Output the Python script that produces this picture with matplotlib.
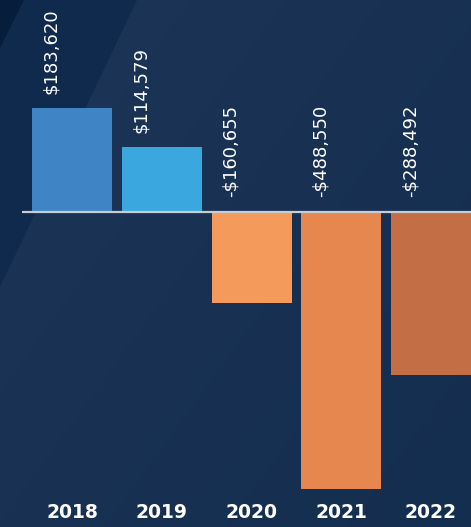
import numpy as np
import matplotlib
matplotlib.use("Agg")
import matplotlib.pyplot as plt
import matplotlib.transforms as mtransforms
from matplotlib.patches import Polygon

# ---------------- data ----------------
years = ["2018", "2019", "2020", "2021", "2022"]
values = [183620, 114579, -160655, -488550, -288492]
labels = ["$183,620", "$114,579", "-$160,655", "-$488,550", "-$288,492"]
bar_colors = ["#3f85c5", "#3aa8df", "#f49a5b", "#e5874f", "#c46e45"]

W, H = 471, 527
fig = plt.figure(figsize=(W / 100, H / 100), dpi=100)

# ---------------- background ----------------
bg = fig.add_axes([0, 0, 1, 1])
bg.set_xlim(0, 1)
bg.set_ylim(0, 1)
bg.axis("off")
gx, gy = np.meshgrid(np.linspace(0, 1, 200), np.linspace(1, 0, 200))
t = np.clip(0.55 * gx + 0.45 * (1 - gy), 0, 1)
c0 = np.array([0x1d, 0x35, 0x56]) / 255
c1 = np.array([0x14, 0x2e, 0x50]) / 255
img = c0[None, None, :] * (1 - t[..., None]) + c1[None, None, :] * t[..., None]
bg.imshow(img, extent=[0, 1, 0, 1], aspect="auto", zorder=0)
# diagonal bands, top-left corner
band = Polygon([(0, 1), (137 / W, 1), (0, 1 - 287 / H)], closed=True,
               facecolor="#0f2a4d", edgecolor="none", zorder=1)
corner = Polygon([(0, 1), (24 / W, 1), (0, 1 - 48 / H)], closed=True,
                 facecolor="#071d3c", edgecolor="none", zorder=2)
bg.add_patch(band)
bg.add_patch(corner)

# ---------------- bars ----------------
ax = fig.add_axes([0, 0, 1, 1])
ax.patch.set_alpha(0)
step = 89.75          # pixels between bar centres
first = 72            # pixel x of the first bar centre
px_per_unit = 1 / 1765.0
zero_px = 212
ax.set_xlim(-first / step, (W - first) / step)
ax.set_ylim(-(H - zero_px) / px_per_unit, zero_px / px_per_unit)
ax.axis("off")

x = np.arange(len(years))
ax.bar(x, values, width=80 / step, color=bar_colors, zorder=2)
ax.hlines(0, (22 - first) / step, (W - first) / step, colors="#c9ccd1",
          linewidth=1.6, zorder=3)

for xi, v, lab in zip(x, values, labels):
    ax.annotate(lab, (xi, max(v, 0)), xytext=(-15, 10 if v > 0 else 11),
                textcoords="offset points", rotation=90, ha="center",
                va="bottom", color="white", fontsize=13, family="DejaVu Sans")

trans = mtransforms.blended_transform_factory(ax.transData, ax.transAxes)
for xi, yr in zip(x, years):
    ax.text(xi, 1 - 513 / H, yr, transform=trans, ha="center", va="center",
            color="white", fontsize=13.5, fontweight="bold", family="DejaVu Sans")

fig.savefig("out.png", dpi=100)
